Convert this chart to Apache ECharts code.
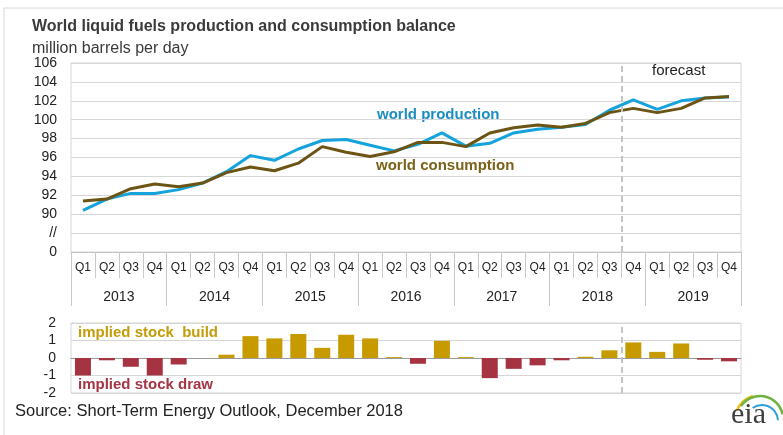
<!DOCTYPE html>
<html>
<head>
<meta charset="utf-8">
<script src="https://cdn.jsdelivr.net/npm/echarts@6/dist/echarts.min.js"></script>
<style>
html,body{margin:0;padding:0;background:#fff;}
#c{width:783px;height:435px;}
</style>
</head>
<body>
<div id="c"></div>
<script>
// ---- data ----
const quarterLabels = ['Q1','Q2','Q3','Q4','Q1','Q2','Q3','Q4','Q1','Q2','Q3','Q4','Q1','Q2','Q3','Q4',
                       'Q1','Q2','Q3','Q4','Q1','Q2','Q3','Q4','Q1','Q2','Q3','Q4'];
const years = ['2013','2014','2015','2016','2017','2018','2019'];
const production = [90.4, 91.6, 92.2, 92.2, 92.6, 93.3, 94.5, 96.2, 95.7, 96.9, 97.8, 97.9,
                    97.3, 96.7, 97.4, 98.6, 97.2, 97.5, 98.6, 99.0, 99.2, 99.5, 101.0, 102.1,
                    101.1, 102.0, 102.3, 102.4];
const consumption = [91.4, 91.6, 92.7, 93.2, 92.9, 93.3, 94.4, 95.0, 94.6, 95.4, 97.15, 96.55,
                     96.1, 96.6, 97.6, 97.6, 97.15, 98.6, 99.15, 99.45, 99.2, 99.6, 100.75, 101.2,
                     100.75, 101.2, 102.3, 102.45];
const stockBalance = [-1.0, -0.13, -0.5, -1.0, -0.37, 0.0, 0.19, 1.25, 1.12, 1.37, 0.58, 1.33,
                      1.12, 0.05, -0.33, 0.98, 0.05, -1.15, -0.62, -0.42, -0.13, 0.07, 0.44, 0.89,
                      0.35, 0.83, -0.1, -0.19];
const topTickLabels = {86:'0', 88:'//', 90:'90', 92:'92', 94:'94', 96:'96', 98:'98', 100:'100', 102:'102', 104:'104', 106:'106'};
const bottomTickLabels = {'-2':'-2','-1':'-1','0':'0','1':'1','2':'2'};
const forecastStart = 23; // index of first forecast quarter (2018 Q4)

// ---- styles ----
const FONT = 'Liberation Sans, Arial, sans-serif';
const BLUE = '#14a3dc', BLUE_T = '#1a8dc2';
const BROWN = '#6c5414', BROWN_T = '#7a6318';
const GOLD = '#c79a00', GOLD_T = '#c49b08';
const RED = '#a63341', RED_T = '#a53444';
const GRID_C = '#d6d6d6';

const chart = echarts.init(document.getElementById('c'), null, {renderer:'canvas'});
const gridL = 71, gridW = 670;

const option = {
  animation: false,
  backgroundColor: '#fff',
  textStyle: {fontFamily: FONT},
  title: [
    {text: 'World liquid fuels production and consumption balance', left: 27, top: 14,
     textStyle: {fontSize: 16, fontWeight: 'bold', color: '#3a3a3a', fontFamily: FONT}},
    {text: 'million barrels per day', left: 27, top: 36,
     textStyle: {fontSize: 16, fontWeight: 'normal', color: '#3a3a3a', fontFamily: FONT}}
  ],
  grid: [
    {left: gridL, top: 63, width: gridW, height: 189, show: true, borderColor: GRID_C, borderWidth: 1},
    {left: gridL, top: 323, width: gridW, height: 70, show: true, borderColor: GRID_C, borderWidth: 1}
  ],
  xAxis: [
    {type: 'category', gridIndex: 0, data: quarterLabels, boundaryGap: true,
     axisLine: {show: true, lineStyle: {color: '#c4c4c4'}},
     axisTick: {show: true, interval: 0, length: 26, lineStyle: {color: '#c8c8c8'}},
     axisLabel: {interval: 0, margin: 10, fontSize: 12, color: '#222', fontFamily: FONT},
     splitLine: {show: false}},
    {type: 'category', gridIndex: 0, data: years, boundaryGap: true, position: 'bottom',
     axisLine: {show: false},
     axisTick: {show: true, interval: 0, length: 54, lineStyle: {color: '#c8c8c8'}},
     axisLabel: {interval: 0, margin: 38, fontSize: 14, color: '#222', fontFamily: FONT},
     splitLine: {show: false}},
    {type: 'value', gridIndex: 0, min: 0, max: quarterLabels.length, show: false},
    {type: 'category', gridIndex: 1, data: quarterLabels, boundaryGap: true,
     axisLine: {show: true, onZero: true, lineStyle: {color: '#9a9a9a', width: 1}},
     axisTick: {show: false}, axisLabel: {show: false}, splitLine: {show: false}},
    {type: 'value', gridIndex: 1, min: 0, max: quarterLabels.length, show: false}
  ],
  yAxis: [
    {type: 'value', gridIndex: 0, min: 86, max: 106, interval: 2,
     axisLine: {show: false}, axisTick: {show: false},
     axisLabel: {fontSize: 14, color: '#222', margin: 14, fontFamily: FONT,
                 formatter: v => topTickLabels[v] !== undefined ? topTickLabels[v] : ''},
     splitLine: {lineStyle: {color: GRID_C, width: 1}}},
    {type: 'value', gridIndex: 1, min: -2, max: 2, interval: 1,
     axisLine: {show: false}, axisTick: {show: false},
     axisLabel: {fontSize: 14, color: '#222', margin: 15, fontFamily: FONT,
                 formatter: v => bottomTickLabels[String(v)] || ''},
     splitLine: {lineStyle: {color: GRID_C, width: 1}}}
  ],
  series: [
    {type: 'line', name: 'forecast-top', xAxisIndex: 2, yAxisIndex: 0, data: [],
     silent: true,
     markLine: {silent: true, symbol: 'none', label: {show: false},
       lineStyle: {color: '#c4c4c4', type: [6, 4], width: 2},
       data: [{xAxis: forecastStart}]}},
    {type: 'line', name: 'forecast-bottom', xAxisIndex: 4, yAxisIndex: 1, data: [],
     silent: true,
     markLine: {silent: true, symbol: 'none', label: {show: false},
       lineStyle: {color: '#c4c4c4', type: [6, 4], width: 2},
       data: [{xAxis: forecastStart}]}},
    {type: 'line', name: 'world production', xAxisIndex: 0, yAxisIndex: 0, data: production,
     symbol: 'none', lineStyle: {color: BLUE, width: 3}, z: 3},
    {type: 'line', name: 'world consumption', xAxisIndex: 0, yAxisIndex: 0, data: consumption,
     symbol: 'none', lineStyle: {color: BROWN, width: 3}, z: 4},
    {type: 'bar', name: 'implied stock change', xAxisIndex: 3, yAxisIndex: 1, data: stockBalance,
     barWidth: 16,
     itemStyle: {color: p => (p.value >= 0 ? GOLD : RED)}}
  ],
  graphic: [
    {type: 'line', shape: {x1: 4, y1: 8, x2: 783, y2: 8}, style: {stroke: '#d8d8d8', lineWidth: 1}},
    {type: 'line', shape: {x1: 4, y1: 8, x2: 4, y2: 435}, style: {stroke: '#d8d8d8', lineWidth: 1}},
    {type: 'text', left: 377, top: 107, style: {text: 'world production', fill: BLUE_T, font: 'bold 15px ' + FONT}},
    {type: 'text', left: 376, top: 158, style: {text: 'world consumption', fill: BROWN_T, font: 'bold 15px ' + FONT}},
    {type: 'text', left: 652, top: 63, style: {text: 'forecast', fill: '#222', font: '15px ' + FONT}},
    {type: 'text', left: 78, top: 325, style: {text: 'implied stock  build', fill: GOLD_T, font: 'bold 15px ' + FONT}},
    {type: 'text', left: 78, top: 377, style: {text: 'implied stock draw', fill: RED_T, font: 'bold 15px ' + FONT}},
    {type: 'text', left: 15, top: 403, style: {text: 'Source: Short-Term Energy Outlook, December 2018', fill: '#222', font: '16.5px ' + FONT}},
    {type: 'arc', shape: {cx: 760, cy: 420, r: 25, startAngle: -2.75, endAngle: -1.85, clockwise: true},
     style: {stroke: '#f2c21b', lineWidth: 2.5, fill: null}},
    {type: 'arc', shape: {cx: 760, cy: 419, r: 23, startAngle: -2.55, endAngle: -0.2, clockwise: true},
     style: {stroke: '#6cb33f', lineWidth: 2.5, fill: null}},
    {type: 'arc', shape: {cx: 762, cy: 421, r: 16, startAngle: -2.2, endAngle: -0.05, clockwise: true},
     style: {stroke: '#2f9fd8', lineWidth: 2, fill: null}},
    {type: 'text', left: 731, top: 400, style: {text: 'eia', fill: '#3d3d3d', font: '30px Liberation Serif, Times New Roman, serif'}}
  ]
};
chart.setOption(option);
</script>
</body>
</html>
